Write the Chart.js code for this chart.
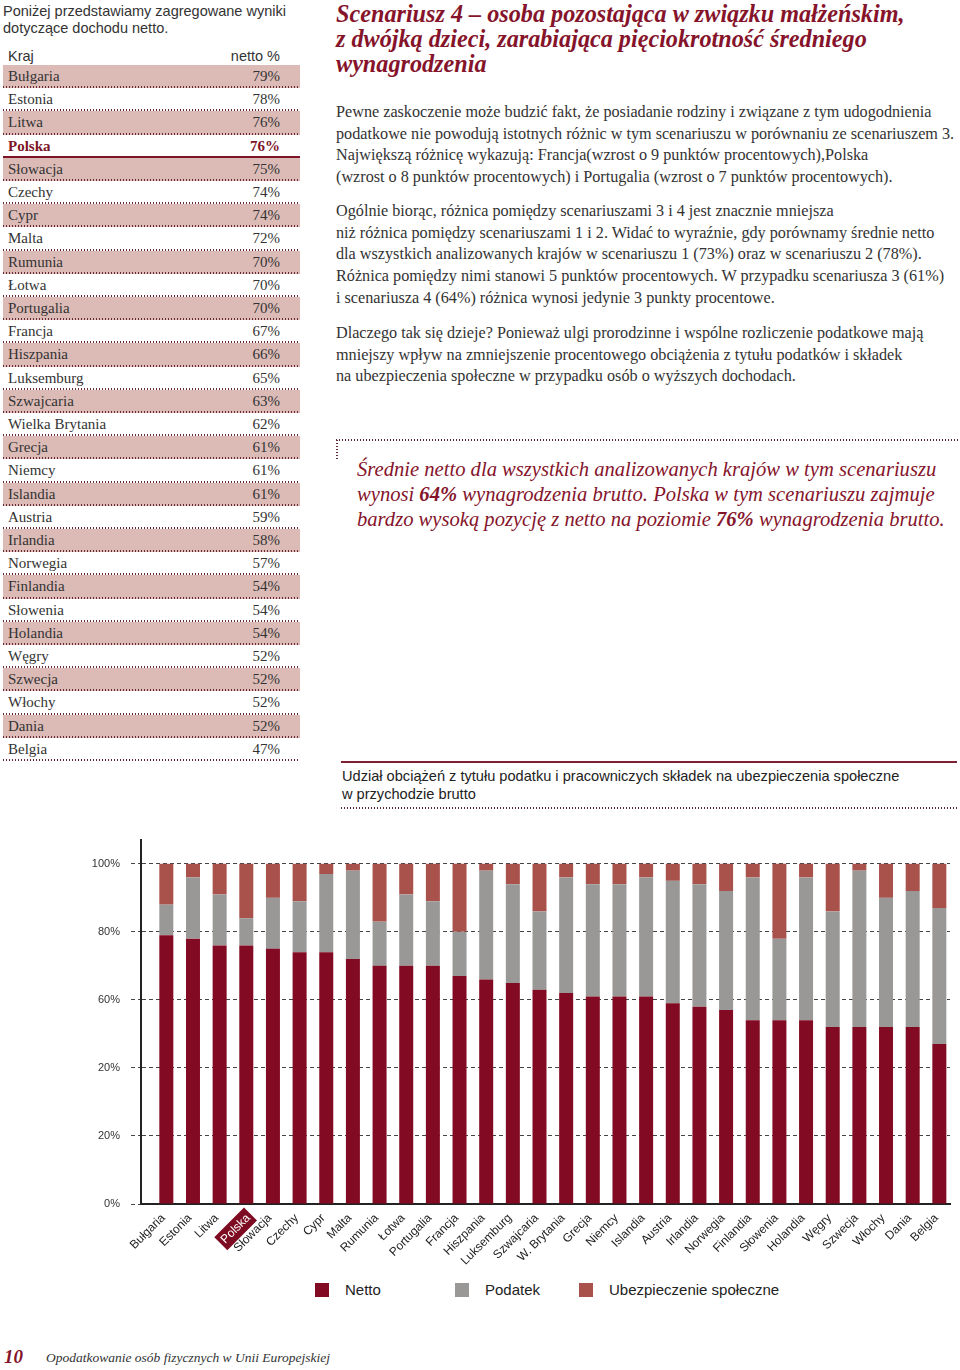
<!DOCTYPE html>
<html lang="pl">
<head>
<meta charset="utf-8">
<title>Scenariusz 4</title>
<script src="https://cdn.jsdelivr.net/npm/chart.js@4.4.0/dist/chart.umd.min.js"></script>
<style>
  body { margin: 0; width: 960px; height: 1370px; position: relative; background: #fff; color: #333; }
  .abs { position: absolute; }
  .sans { font-family: "Liberation Sans", Arial, sans-serif; }
  .serif { font-family: "Liberation Serif", "Times New Roman", serif; }
  .nw { white-space: nowrap; }
  .red { color: #85142b; }
  .dots { height: 2px; background-image: linear-gradient(to right, #5e2a33 1.5px, transparent 1.5px);
          background-size: 3px 2px; background-repeat: repeat-x; }
  .row { left: 3px; width: 297px; height: 23.2px; line-height: 23px; font-size: 15px; box-sizing: border-box;
         background-image: linear-gradient(to right, #6a2a35 1.5px, transparent 1.5px);
         background-size: 3px 2px; background-repeat: repeat-x; background-position: left bottom; }
  .row .k { position: absolute; left: 5px; }
  .row .v { position: absolute; right: 20px; }
  .leg { font-size: 15px; line-height: 16px; color: #222; }
  .leg i { position: absolute; left: 0; top: 1px; width: 14px; height: 14px; }
  .leg span { position: absolute; left: 30px; top: 0; white-space: nowrap; }
</style>
</head>
<body>

<div class="abs sans nw" style="left:3px; top:3px; font-size:14.5px; line-height:17px;">
  Poniżej przedstawiamy zagregowane wyniki<br>dotyczące dochodu netto.
</div>

<div class="abs sans" style="left:3px; top:48px; width:297px; height:17px; font-size:14.5px; line-height:17px; border-bottom:2px solid #7d1427;">
  <span style="position:absolute; left:5px;">Kraj</span>
  <span style="position:absolute; right:20px;">netto %</span>
</div>
<div id="tabela"></div>

<div class="abs serif nw red" style="left:336px; top:1px; font-size:24.2px; line-height:25px; font-weight:bold; font-style:italic;">
  Scenariusz 4 – osoba pozostająca w związku małżeńskim,<br>
  z dwójką dzieci, zarabiająca pięciokrotność średniego<br>
  wynagrodzenia
</div>

<div class="abs serif nw" style="left:336px; top:102px; font-size:16.2px; line-height:21.7px;">
  Pewne zaskoczenie może budzić fakt, że posiadanie rodziny i związane z tym udogodnienia<br>
  podatkowe nie powodują istotnych różnic w tym scenariuszu w porównaniu ze scenariuszem 3.<br>
  Największą różnicę wykazują: Francja(wzrost o 9 punktów procentowych),Polska<br>
  (wzrost o 8 punktów procentowych) i Portugalia (wzrost o 7 punktów procentowych).
</div>

<div class="abs serif nw" style="left:336px; top:201px; font-size:16.2px; line-height:21.7px;">
  Ogólnie biorąc, różnica pomiędzy scenariuszami 3 i 4 jest znacznie mniejsza<br>
  niż różnica pomiędzy scenariuszami 1 i 2. Widać to wyraźnie, gdy porównamy średnie netto<br>
  dla wszystkich analizowanych krajów w scenariuszu 1 (73%) oraz w scenariuszu 2 (78%).<br>
  Różnica pomiędzy nimi stanowi 5 punktów procentowych. W przypadku scenariusza 3 (61%)<br>
  i scenariusza 4 (64%) różnica wynosi jedynie 3 punkty procentowe.
</div>

<div class="abs serif nw" style="left:336px; top:323px; font-size:16.2px; line-height:21.7px;">
  Dlaczego tak się dzieje? Ponieważ ulgi prorodzinne i wspólne rozliczenie podatkowe mają<br>
  mniejszy wpływ na zmniejszenie procentowego obciążenia z tytułu podatków i składek<br>
  na ubezpieczenia społeczne w przypadku osób o wyższych dochodach.
</div>

<div class="abs dots" style="left:336px; top:439px; width:622px;"></div>
<div class="abs" style="left:336px; top:440px; width:2px; height:20px; background-image: linear-gradient(to bottom, #5e2a33 1.5px, transparent 1.5px); background-size: 2px 3px;"></div>

<div class="abs serif nw red" style="left:357px; top:457px; font-size:20.6px; line-height:25px; font-style:italic;">
  Średnie netto dla wszystkich analizowanych krajów w tym scenariuszu<br>
  wynosi <b>64%</b> wynagrodzenia brutto. Polska w tym scenariuszu zajmuje<br>
  bardzo wysoką pozycję z netto na poziomie <b>76%</b> wynagrodzenia brutto.
</div>

<div class="abs" style="left:341px; top:761px; width:616px; height:0; border-top:2px solid #7d2030;"></div>
<div class="abs sans nw" style="left:342px; top:767px; font-size:14.6px; line-height:18px; color:#222;">
  Udział obciążeń z tytułu podatku i pracowniczych składek na ubezpieczenia społeczne<br>
  w przychodzie brutto
</div>
<div class="abs dots" style="left:341px; top:807px; width:616px;"></div>

<div class="abs" style="left:0; top:820px; width:960px; height:454px;">
  <canvas id="wykres"></canvas>
</div>
<div id="legenda" class="abs sans" style="left:0; top:1282px; width:960px; height:20px;"></div>

<div class="abs serif nw red" style="left:4px; top:1346px; font-size:19px; line-height:22px; font-weight:bold; font-style:italic;">10</div>
<div class="abs serif nw" style="left:46px; top:1348px; font-size:13.5px; line-height:20px; font-style:italic;">Opodatkowanie osób fizycznych w Unii Europejskiej</div>

<script>
// dane wykresu (udział w przychodzie brutto, %)
const countries = ["Bułgaria", "Estonia", "Litwa", "Polska", "Słowacja", "Czechy", "Cypr", "Malta",
    "Rumunia", "Łotwa", "Portugalia", "Francja", "Hiszpania", "Luksemburg", "Szwajcaria",
    "W. Brytania", "Grecja", "Niemcy", "Islandia", "Austria", "Irlandia", "Norwegia",
    "Finlandia", "Słowenia", "Holandia", "Węgry", "Szwecja", "Włochy", "Dania", "Belgia"];
const tableCountries = ["Bułgaria", "Estonia", "Litwa", "Polska", "Słowacja", "Czechy", "Cypr", "Malta",
    "Rumunia", "Łotwa", "Portugalia", "Francja", "Hiszpania", "Luksemburg", "Szwajcaria",
    "Wielka Brytania", "Grecja", "Niemcy", "Islandia", "Austria", "Irlandia", "Norwegia",
    "Finlandia", "Słowenia", "Holandia", "Węgry", "Szwecja", "Włochy", "Dania", "Belgia"];
const netto = [79, 78, 76, 76, 75, 74, 74, 72, 70, 70, 70, 67, 66, 65, 63,
    62, 61, 61, 61, 59, 58, 57, 54, 54, 54, 52, 52, 52, 52, 47];
const podatek = [9, 18, 15, 8, 15, 15, 23, 26, 13, 21, 19, 13, 32, 29, 23,
    34, 33, 33, 35, 36, 36, 35, 42, 24, 42, 34, 46, 38, 40, 40];
const ubezpieczenie = [12, 4, 9, 16, 10, 11, 3, 2, 17, 9, 11, 20, 2, 6, 14,
    4, 6, 6, 4, 5, 6, 8, 4, 22, 4, 14, 2, 10, 8, 13];
const yTicks = [0, 20, 40, 60, 80, 100];
const yTickLabels = ["0%", "20%", "20%", "60%", "80%", "100%"];
const highlight = "Polska";

// Tabela netto
const tabela = document.getElementById("tabela");
tableCountries.forEach((name, i) => {
    const row = document.createElement("div");
    row.className = "abs row serif";
    row.style.top = (65 + i * 23.2) + "px";
    if (i % 2 === 0) row.style.backgroundColor = "#dcbbb7";
    if (name === highlight) {
        row.style.backgroundImage = "none";
        row.style.borderBottom = "2px solid #7d1427";
        row.style.fontWeight = "bold";
        row.style.color = "#7d1427";
    }
    row.innerHTML = '<span class="k">' + name + '</span><span class="v">' + netto[i] + '%</span>';
    tabela.appendChild(row);
});

// Wykres
const toPoints = (arr) => arr.map((v, i) => ({ x: i, y: v }));
const fontSans = "'Liberation Sans', Arial, sans-serif";

const dataWykres = {
    datasets: [
        {
            label: "Netto",
            backgroundColor: "#820a22",
            data: toPoints(netto),
        },
        {
            label: "Podatek",
            backgroundColor: "#999896",
            data: toPoints(podatek),
        },
        {
            label: "Ubezpieczenie społeczne",
            backgroundColor: "#a9514b",
            data: toPoints(ubezpieczenie),
        },
    ],
};

const configWykres = {
    type: "bar",
    data: dataWykres,
    options: {
        responsive: true,
        maintainAspectRatio: false,
        animation: false,
        barPercentage: 0.525,
        categoryPercentage: 1,
        layout: { padding: { top: 20, right: 10, left: 0, bottom: 0 } },
        plugins: {
            tooltip: { enabled: false },
            legend: { display: false },
        },
        scales: {
            x: {
                type: "linear",
                stacked: true,
                offset: false,
                min: -0.95,
                max: 29.4,
                afterBuildTicks: (scale) => {
                    scale.ticks = countries.map((c, i) => ({ value: i }));
                },
                afterFit: (scale) => { scale.height = 70; },
                grid: { display: false, drawTicks: false, offset: false },
                border: { color: "#222", width: 2 },
                ticks: {
                    autoSkip: false,
                    maxRotation: 45,
                    minRotation: 45,
                    padding: 7,
                    labelOffset: -3,
                    callback: (v) => countries[v],
                    color: (ctx) => countries[ctx.index] === highlight ? "#fff" : "#222",
                    showLabelBackdrop: (ctx) => countries[ctx.index] === highlight,
                    backdropColor: "#7d0c22",
                    backdropPadding: { x: 3, y: 2 },
                    font: { family: fontSans, size: 12 },
                },
            },
            y: {
                stacked: true,
                min: 0,
                max: 107,
                afterBuildTicks: (scale) => {
                    scale.ticks = yTicks.map((v) => ({ value: v }));
                },
                afterFit: (scale) => { scale.width = 141; },
                grid: {
                    color: "#444",
                    lineWidth: 1,
                    tickLength: 10,
                    tickBorderDash: [4, 3],
                },
                border: { color: "#222", width: 2, dash: [4, 3] },
                ticks: {
                    padding: 11,
                    color: "#333",
                    callback: (v) => yTickLabels[yTicks.indexOf(v)],
                    font: { family: fontSans, size: 11 },
                },
            },
        },
    },
};

var wykres = new Chart(document.getElementById("wykres"), configWykres);

// Legenda pod wykresem (z kolorów i nazw serii)
const legendX = [315, 455, 579];
const legenda = document.getElementById("legenda");
wykres.data.datasets.forEach((ds, i) => {
    const item = document.createElement("div");
    item.className = "abs leg";
    item.style.left = legendX[i] + "px";
    item.style.top = "0px";
    item.innerHTML = '<i style="background:' + ds.backgroundColor + '"></i><span>' + ds.label + '</span>';
    legenda.appendChild(item);
});
</script>
</body>
</html>
